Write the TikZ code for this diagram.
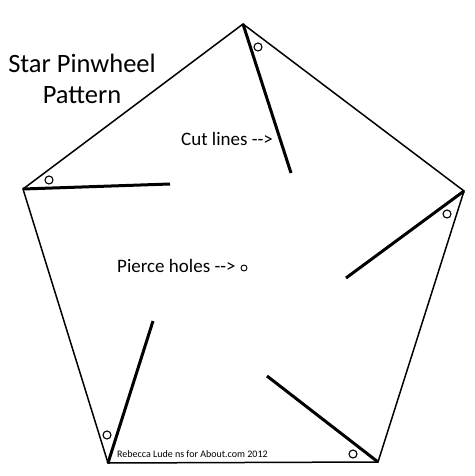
\documentclass[tikz,border=0pt]{standalone}
\usepackage{fontspec}
\setmainfont{Carlito}
\usetikzlibrary{positioning}
\tikzset{
    x=1pt, y=-1pt, % one unit is one pixel, y runs down
    rim/.style={line width=1.5pt, line join=miter}, % outline of the pentagon
    cutline/.style={line width=3pt}, % lines that get cut
    hole/.style={circle, draw, line width=1.1pt, minimum size=8pt, inner sep=0pt}, % holes to pierce
    caption/.style={font=\fontsize{26.5}{31}\selectfont, align=center, inner sep=0pt, anchor=base},
    note/.style={font=\fontsize{19}{22}\selectfont, anchor=base west, inner sep=0pt},
}
\begin{document}
\begin{tikzpicture}
\useasboundingbox (0,0) rectangle (474,476);
% corners of the pentagon
\coordinate (top) at (243,24);
\coordinate (rgt) at (464,191);
\coordinate (brt) at (378,462);
\coordinate (blf) at (108,463);
\coordinate (lft) at (23,189);
% inner ends of the cut lines
\coordinate (ctop) at (291,173);
\coordinate (crgt) at (346,278);
\coordinate (cbrt) at (267,376);
\coordinate (cblf) at (153,321);
\coordinate (clft) at (170,184);
\draw[rim] (top) -- (rgt) -- (brt) -- (blf) -- (lft) -- cycle;
\draw[cutline] (top) -- (ctop);
\draw[cutline] (rgt) -- (crgt);
\draw[cutline] (brt) -- (cbrt);
\draw[cutline] (blf) -- (cblf);
\draw[cutline] (lft) -- (clft);
\node[hole] (htop) at (258,47) {};
\node[hole] (hrgt) at (447,214) {};
\node[hole] (hbrt) at (353,454) {};
\node[hole] (hblf) at (107,435) {};
\node[hole] (hlft) at (49,180) {};
\node[caption] (title) at (82,103) {Star Pinwheel\\Pattern};
\node[note] (cut) at (181,145) {Cut lines -{}-{}>};
\node[note] (pierce) at (117,272) {Pierce holes -{}-{}>};
\node[hole, minimum size=6pt, line width=0.9pt] (phole) at (244,268) {};
\node[font=\fontsize{10}{11}\selectfont, anchor=base west, inner sep=0pt] (credit) at (117,457) {Rebecca Lude ns for About.com 2012};
\end{tikzpicture}
\end{document}
